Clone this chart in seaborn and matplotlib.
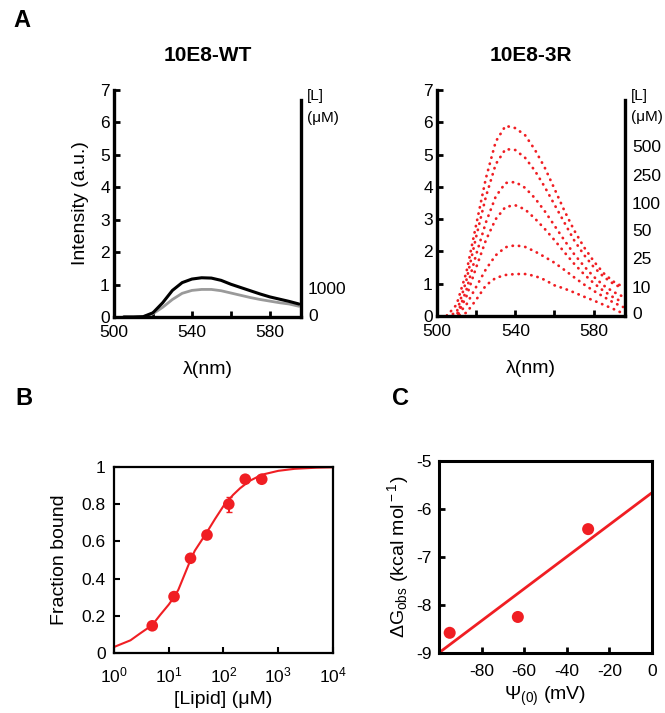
import numpy as np
import pandas as pd
import matplotlib
matplotlib.use("Agg")
import matplotlib.pyplot as plt
import matplotlib.ticker as mticker
import seaborn as sns

# ---------------- data ----------------
# panel A: emission spectra
wl = [505, 510, 515, 520, 525, 530, 535, 540, 545, 550, 555, 560, 565, 570, 575, 580, 585, 590, 595]

wt_1000 = [0, 0, 0.01, 0.13, 0.44, 0.82, 1.06, 1.17, 1.21, 1.20, 1.13, 1.01, 0.91, 0.81, 0.71, 0.62, 0.55, 0.48, 0.40]
wt_0 = [0, 0, 0.01, 0.10, 0.30, 0.54, 0.73, 0.82, 0.85, 0.85, 0.81, 0.74, 0.67, 0.60, 0.54, 0.49, 0.44, 0.40, 0.33]

r3_500 = [0, 0.35, 1.35, 2.82, 4.27, 5.40, 5.89, 5.82, 5.60, 5.15, 4.60, 3.94, 3.27, 2.66, 2.14, 1.70, 1.33, 1.07, 0.90]
r3_250 = [0, 0.10, 1.10, 2.45, 3.70, 4.70, 5.17, 5.14, 4.90, 4.50, 4.00, 3.45, 2.90, 2.35, 1.90, 1.52, 1.22, 1.00, 0.85]
r3_100 = [0, 0, 0.80, 1.90, 2.90, 3.70, 4.12, 4.15, 3.97, 3.65, 3.25, 2.80, 2.35, 1.92, 1.55, 1.22, 0.95, 0.75, 0.60]
r3_50 = [0, 0, 0.60, 1.50, 2.35, 3.00, 3.38, 3.43, 3.30, 3.02, 2.70, 2.35, 1.98, 1.62, 1.30, 1.02, 0.78, 0.58, 0.42]
r3_25 = [0, 0, 0.35, 0.90, 1.45, 1.88, 2.13, 2.19, 2.14, 2.00, 1.83, 1.65, 1.43, 1.20, 0.98, 0.78, 0.60, 0.42, 0.28]
r3_10 = [0, 0, 0.10, 0.50, 0.95, 1.18, 1.27, 1.30, 1.30, 1.24, 1.12, 0.95, 0.85, 0.73, 0.60, 0.48, 0.35, 0.22, 0.08]
r3_curves = [r3_500, r3_250, r3_100, r3_50, r3_25, r3_10]

conc_labels = ["500", "250", "100", "50", "25", "10", "0"]
conc_pos = [5.25, 4.38, 3.51, 2.67, 1.80, 0.90, 0.09]
wt_labels = ["1000", "0"]
wt_pos = [0.90, 0.06]

# panel B: binding isotherm
lipid = [5, 12.5, 25, 50, 125, 250, 500]
frac = [0.146, 0.303, 0.509, 0.634, 0.80, 0.934, 0.934]
frac_err = [0.01, 0.01, 0.01, 0.01, 0.04, 0.01, 0.01]
fit_x = [1, 2, 3, 5, 7, 10, 12.5, 15, 20, 25, 30, 50, 70, 100, 150, 200, 300, 500, 1000, 2000, 5000, 10000]
fit_y = [0.032, 0.068, 0.105, 0.15, 0.205, 0.26, 0.30, 0.34, 0.43, 0.50, 0.55, 0.65, 0.72, 0.79, 0.85, 0.885, 0.925, 0.958, 0.979, 0.99, 0.996, 0.998]

# panel C: free energy vs surface potential
psi = [-95, -63, -30]
dg = [-8.58, -8.25, -6.42]

# ---------------- style ----------------
sns.set_style("ticks")
plt.rcParams["font.family"] = ["Liberation Sans", "DejaVu Sans"]
plt.rcParams["mathtext.fontset"] = "custom"
plt.rcParams["mathtext.rm"] = "Liberation Sans"
plt.rcParams["mathtext.it"] = "Liberation Sans:italic"
plt.rcParams["mathtext.bf"] = "Liberation Sans:bold"
plt.rcParams["axes.unicode_minus"] = False
for key in ["text.color", "axes.labelcolor", "xtick.color", "ytick.color", "axes.edgecolor"]:
    plt.rcParams[key] = "black"

RED = "#f01e23"
TICK = 12.5
LAB = 14

fig = plt.figure(figsize=(6.65, 7.13), dpi=100)

ax_wt = fig.add_axes([0.1714, 0.5554, 0.2812, 0.3184])
ax_3r = fig.add_axes([0.6571, 0.5568, 0.2827, 0.3170])
ax_b = fig.add_axes([0.1714, 0.0842, 0.3293, 0.2609])
ax_c = fig.add_axes([0.6602, 0.0842, 0.3203, 0.2693])


def spectra_axes(ax, labels, pos):
    ax.set_xlim(500, 596)
    ax.set_ylim(0, 7)
    ax.set_xticks([500, 540, 580])
    ax.set_xticks([520, 560], minor=True)
    ax.set_yticks(range(0, 8))
    for s in ["top", "right"]:
        ax.spines[s].set_visible(False)
    for s in ["left", "bottom"]:
        ax.spines[s].set_linewidth(2.4)
    ax.tick_params(which="both", direction="in", length=4, width=2, labelsize=TICK, pad=3)
    ax.tick_params(axis="x", which="both", pad=6)
    ax.set_xlabel("λ(nm)", fontsize=LAB, labelpad=15)
    tw = ax.twinx()
    tw.set_ylim(0, 7)
    tw.set_yticks(pos)
    tw.set_yticklabels(labels)
    tw.tick_params(axis="y", length=0, labelsize=TICK, pad=5)
    for s in ["top", "left", "bottom"]:
        tw.spines[s].set_visible(False)
    tw.spines["right"].set_linewidth(2.4)
    tw.spines["right"].set_bounds(0, 6.7)
    tw.text(1.03, 6.8, "[L]", transform=tw.get_yaxis_transform(), fontsize=11, va="center")
    tw.text(1.03, 6.15, "(μM)", transform=tw.get_yaxis_transform(), fontsize=11, va="center")
    return tw


# ---- A left: 10E8-WT ----
sns.lineplot(x=wl, y=wt_0, ax=ax_wt, color="#9a9a9a", linewidth=2)
sns.lineplot(x=wl, y=wt_1000, ax=ax_wt, color="black", linewidth=2.2)
spectra_axes(ax_wt, wt_labels, wt_pos)
ax_wt.set_ylabel("Intensity (a.u.)", fontsize=LAB, labelpad=8)
ax_wt.set_title("10E8-WT", fontsize=15, fontweight="bold", pad=21)

# ---- A right: 10E8-3R ----
for curve in r3_curves:
    sns.lineplot(x=wl, y=curve, ax=ax_3r, color=RED, linewidth=2,
                 linestyle=(0, (0.1, 2.2)), dash_capstyle="round")
spectra_axes(ax_3r, conc_labels, conc_pos)
ax_3r.set_title("10E8-3R", fontsize=15, fontweight="bold", pad=21)

# ---- B: fraction bound ----
sns.lineplot(x=fit_x, y=fit_y, ax=ax_b, color=RED, linewidth=1.5)
ax_b.errorbar(lipid, frac, yerr=frac_err, fmt="none", ecolor=RED, elinewidth=1.5, capsize=2)
sns.scatterplot(x=lipid, y=frac, ax=ax_b, color=RED, s=70, edgecolor="none", zorder=3)
ax_b.set_xscale("log")
ax_b.set_xlim(1, 1e4)
ax_b.set_ylim(0, 1)
ax_b.set_xticks([1, 10, 100, 1000, 10000])
ax_b.xaxis.set_major_formatter(mticker.LogFormatterMathtext())
ax_b.xaxis.set_minor_locator(mticker.NullLocator())
ax_b.set_yticks([0, 0.2, 0.4, 0.6, 0.8, 1])
ax_b.set_yticklabels(["0", "0.2", "0.4", "0.6", "0.8", "1"])
for s in ax_b.spines.values():
    s.set_linewidth(1.6)
ax_b.tick_params(direction="in", length=4, width=1.5, labelsize=TICK, pad=6)
ax_b.tick_params(axis="x", pad=9)
ax_b.set_xlabel("[Lipid] (μM)", fontsize=LAB, labelpad=4)
ax_b.set_ylabel("Fraction bound", fontsize=LAB, labelpad=10)

# ---- C: dG vs psi ----
ax_c.set_xlim(-100, 0)
ax_c.set_ylim(-9, -5)
sns.regplot(x=psi, y=dg, ax=ax_c, ci=None, truncate=False, color=RED,
            scatter_kws={"s": 75, "zorder": 3, "edgecolor": "none", "alpha": 1},
            line_kws={"linewidth": 2})
ax_c.set_xlim(-100, 0)
ax_c.set_ylim(-9, -5)
ax_c.set_xticks([-80, -60, -40, -20, 0])
ax_c.set_yticks([-9, -8, -7, -6, -5])
for s in ax_c.spines.values():
    s.set_linewidth(2.2)
ax_c.tick_params(direction="in", length=4, width=2, labelsize=TICK, pad=5)
ax_c.tick_params(axis="x", pad=8)
ax_c.set_xlabel("Ψ$_{(0)}$ (mV)", fontsize=LAB, labelpad=4)
ax_c.set_ylabel("ΔG$_{\\rm obs}$ (kcal mol$^{\\rm -1}$)", fontsize=LAB, labelpad=4)

# panel letters
fig.text(13 / 665, 1 - 27 / 713, "A", fontsize=17, fontweight="bold", va="baseline")
fig.text(15 / 665, 1 - 405 / 713, "B", fontsize=17, fontweight="bold", va="baseline")
fig.text(392 / 665, 1 - 405 / 713, "C", fontsize=17, fontweight="bold", va="baseline")

fig.savefig("out.png", dpi=100)
